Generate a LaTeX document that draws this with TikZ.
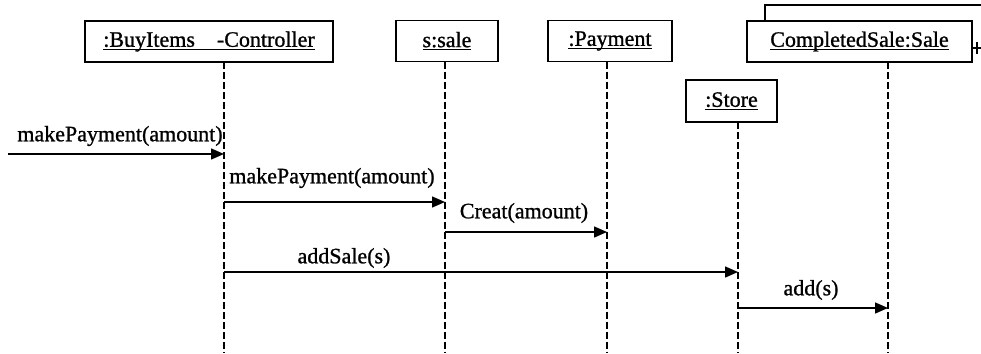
\documentclass[tikz,border=0pt]{standalone}
\usepackage{fontspec}
\setmainfont{Liberation Serif}[FakeBold=1.0]
\usetikzlibrary{arrows.meta}
\newcommand{\ulbox}[1]{\setbox0\hbox{#1}\rlap{\rule[-3pt]{\wd0}{1.2pt}}\box0}
\tikzset{
  obj/.style={draw, line width=1.4pt, fill=white, inner sep=0pt, font=\fontsize{22}{26}\selectfont},
  life/.style={line width=1.4pt, dash pattern=on 7pt off 3pt},
  msg/.style={line width=1.5pt, -{Triangle[length=13pt,width=11pt]}},
  lbl/.style={inner sep=0pt, font=\fontsize{22}{26}\selectfont}
}
\begin{document}
\begin{tikzpicture}[x=1pt,y=-1pt]
\useasboundingbox (0,0) rectangle (981,353);
\coordinate (bot) at (0,353);
% back box of multi-object
\draw[line width=1.4pt] (765,21) -- (765,5) -- (981,5);
\draw[line width=1.4pt] (972,48) -- (981,48);
\draw[line width=1.4pt] (977,42) -- (977,54);
% objects
\node[obj, minimum width=248pt, minimum height=41pt] (ctrl) at (209,41.5) {\ulbox{:BuyItems\hspace{22pt}-Controller}};
\node[obj, minimum width=102pt, minimum height=41pt] (sale) at (447,41) {\ulbox{s:sale}};
\node[obj, minimum width=124pt, minimum height=41pt] (pay) at (610,41) {\ulbox{:Payment}};
\node[obj, minimum width=225pt, minimum height=41pt] (comp) at (859.5,41.5) {\ulbox{CompletedSale:Sale}};
\node[obj, minimum width=91pt, minimum height=42pt] (store) at (731.5,101) {\ulbox{:Store}};
% lifeline tops
\coordinate (cT) at (224,62);
\coordinate (sT) at (445,61.5);
\coordinate (pT) at (607,61.5);
\coordinate (stT) at (738,122);
\coordinate (cpT) at (888,62);
\draw[life] (cT) -- (cT |- bot);
\draw[life] (sT) -- (sT |- bot);
\draw[life] (pT) -- (pT |- bot);
\draw[life] (stT) -- (stT |- bot);
\draw[life] (cpT) -- (cpT |- bot);
% message rows
\coordinate (m1) at (8,154);
\coordinate (r2) at (0,202);
\coordinate (r3) at (0,232);
\coordinate (r4) at (0,272);
\coordinate (r5) at (0,308);
\draw[msg] (m1) -- (cT |- m1);
\draw[msg] (cT |- r2) -- (sT |- r2);
\draw[msg] (sT |- r3) -- (pT |- r3);
\draw[msg] (cT |- r4) -- (stT |- r4);
\draw[msg] (stT |- r5) -- (cpT |- r5);
% labels
\node[lbl] (l1) at (120,136) {makePayment(amount)};
\node[lbl] (l2) at (332,178) {makePayment(amount)};
\node[lbl] (l3) at (524,213) {Creat(amount)};
\node[lbl] (l4) at (344,258) {addSale(s)};
\node[lbl] (l5) at (811,290) {add(s)};
\end{tikzpicture}
\end{document}
